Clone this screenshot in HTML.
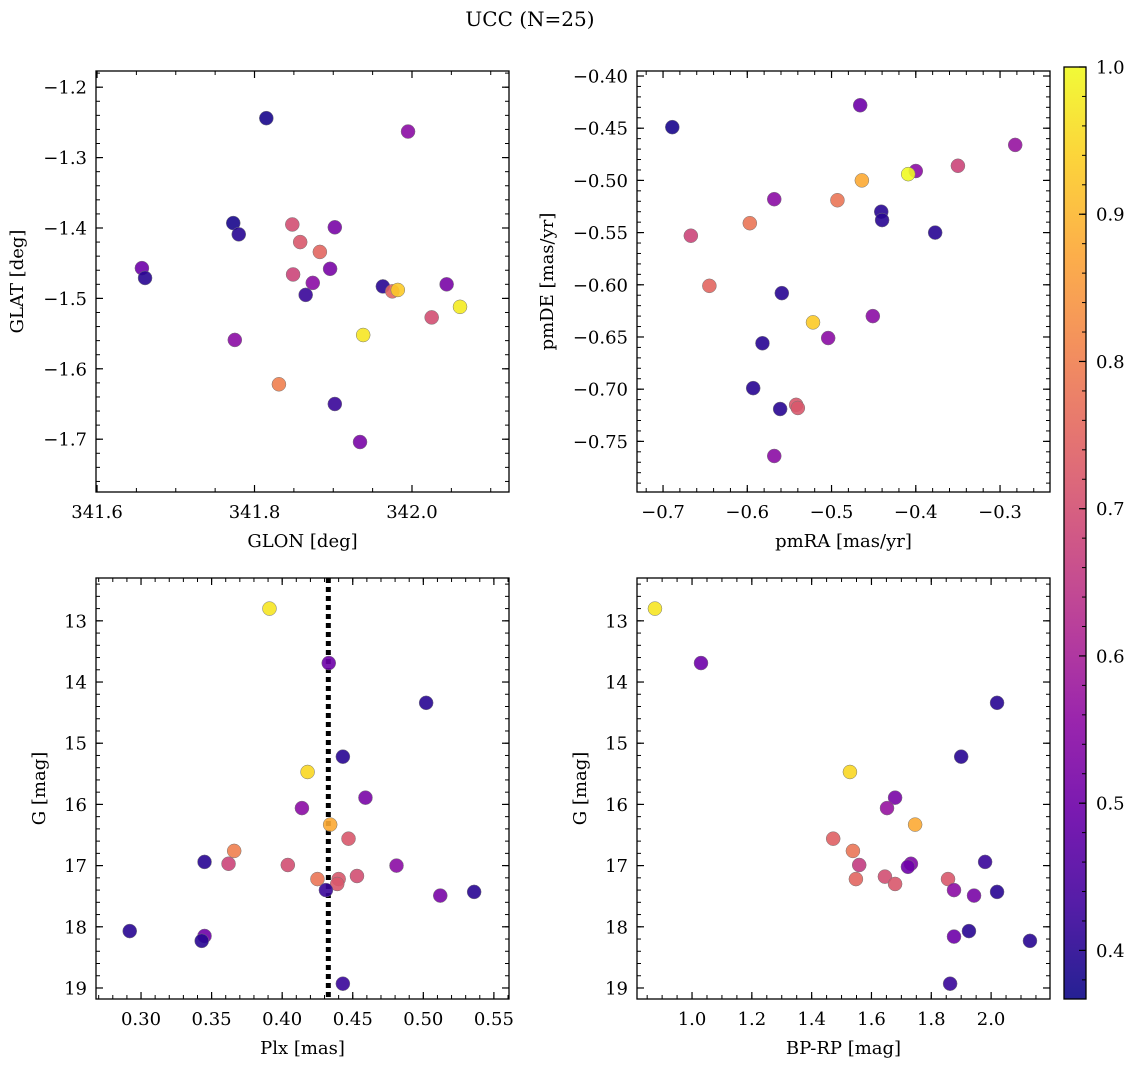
<!DOCTYPE html>
<html><head><meta charset="utf-8"><style>
body{margin:0;background:#fff;}
svg{display:block;font-family:"DejaVu Serif","Liberation Serif",serif;}
</style></head><body>
<svg id="fig" width="1136" height="1067" xmlns="http://www.w3.org/2000/svg">
<text x="530" y="26" font-size="20" text-anchor="middle">UCC (N=25)</text>
</svg>
<script>
// Panel 1: GLON vs GLAT
const glonValues=[341.815,341.995,341.773,341.780,341.848,341.858,341.902,341.883,341.657,341.661,341.849,341.896,341.874,341.865,341.963,341.975,341.982,342.044,342.061,342.025,341.938,341.775,341.831,341.902,341.934];
const glatValues=[-1.244,-1.263,-1.393,-1.409,-1.395,-1.420,-1.399,-1.434,-1.457,-1.471,-1.466,-1.458,-1.478,-1.495,-1.483,-1.490,-1.488,-1.480,-1.512,-1.527,-1.552,-1.559,-1.622,-1.650,-1.704];
const probPanel1=[0.38,0.55,0.38,0.40,0.70,0.72,0.52,0.75,0.50,0.40,0.68,0.52,0.55,0.42,0.40,0.75,0.93,0.52,0.98,0.70,0.97,0.55,0.80,0.42,0.52];
// Panel 2: pmRA vs pmDE
const pmraValues=[-0.689,-0.466,-0.282,-0.350,-0.400,-0.409,-0.464,-0.493,-0.568,-0.441,-0.440,-0.377,-0.597,-0.667,-0.645,-0.559,-0.451,-0.522,-0.504,-0.582,-0.593,-0.561,-0.542,-0.540,-0.568];
const pmdeValues=[-0.449,-0.428,-0.466,-0.486,-0.491,-0.494,-0.500,-0.519,-0.518,-0.530,-0.538,-0.550,-0.541,-0.553,-0.601,-0.608,-0.630,-0.636,-0.651,-0.656,-0.699,-0.719,-0.715,-0.718,-0.764];
const probPanel2=[0.38,0.50,0.57,0.68,0.55,1.00,0.88,0.78,0.55,0.40,0.40,0.40,0.78,0.68,0.75,0.40,0.55,0.93,0.55,0.40,0.40,0.40,0.72,0.72,0.55];
// Panel 3: Plx vs G
const plxValues=[0.391,0.433,0.502,0.443,0.418,0.459,0.414,0.434,0.447,0.366,0.345,0.362,0.404,0.481,0.425,0.440,0.453,0.439,0.431,0.512,0.536,0.292,0.345,0.343,0.443];
const gPanel3=[12.80,13.69,14.34,15.22,15.47,15.89,16.06,16.33,16.56,16.76,16.94,16.97,16.99,17.00,17.22,17.22,17.17,17.30,17.40,17.49,17.43,18.07,18.15,18.23,18.93];
const probPanel3=[0.97,0.50,0.40,0.40,0.95,0.52,0.55,0.88,0.72,0.80,0.40,0.68,0.70,0.55,0.78,0.72,0.70,0.72,0.42,0.52,0.40,0.40,0.50,0.40,0.42];
const plxMedian=[0.4327];
// Panel 4: BP-RP vs G
const bprpValues=[0.876,1.030,2.020,1.900,1.528,1.679,1.652,1.746,1.472,1.538,1.980,1.559,1.732,1.722,1.548,1.645,1.679,1.856,1.876,1.943,2.020,1.926,1.876,2.130,1.863];
const gPanel4=[12.80,13.69,14.34,15.22,15.47,15.89,16.06,16.33,16.56,16.76,16.94,16.99,16.97,17.02,17.22,17.18,17.30,17.22,17.40,17.49,17.43,18.07,18.16,18.23,18.93];
const probPanel4=[0.97,0.50,0.40,0.40,0.95,0.52,0.57,0.88,0.74,0.78,0.42,0.66,0.53,0.50,0.75,0.70,0.72,0.72,0.55,0.52,0.40,0.40,0.50,0.40,0.42];
// Tick labels
const ticksGlon=[341.6,341.8,342.0];
const ticksGlat=[-1.2,-1.3,-1.4,-1.5,-1.6,-1.7];
const ticksPmra=[-0.7,-0.6,-0.5,-0.4,-0.3];
const ticksPmde=[-0.40,-0.45,-0.50,-0.55,-0.60,-0.65,-0.70,-0.75];
const ticksPlx=[0.30,0.35,0.40,0.45,0.50,0.55];
const ticksG=[13,14,15,16,17,18,19];
const ticksBprp=[1.0,1.2,1.4,1.6,1.8,2.0];
const ticksCbar=[0.4,0.5,0.6,0.7,0.8,0.9,1.0];

const NS="http://www.w3.org/2000/svg";
const svg=document.getElementById('fig');
function mk(tag,attrs,parent){const e=document.createElementNS(NS,tag);for(const k in attrs)e.setAttribute(k,attrs[k]);(parent||svg).appendChild(e);return e;}
const CMIN=0.367,CMAX=1.0;
const stops=["#0d0887","#41049d","#6a00a8","#8f0da4","#b12a90","#cc4778","#e16462","#f2844b","#fca636","#fcce25","#f0f921"];
function hex(h){return [1,3,5].map(i=>parseInt(h.substr(i,2),16));}
function plasma(t){t=Math.max(0,Math.min(1,t));const p=t*10,i=Math.min(9,Math.floor(p)),f=p-i;const a=hex(stops[i]),b=hex(stops[i+1]);return 'rgb('+a.map((v,k)=>Math.round(v+(b[k]-v)*f)).join(',')+')';}
function cmap(c){return plasma((c-CMIN)/(CMAX-CMIN));}
function fmt(v,d){return (v<0?'\u2212':'')+Math.abs(v).toFixed(d);}
const TF=18;

function panel(o){
  const g=mk('g',{});
  
  
  const sx=v=>o.x0+(v-o.xmin)/(o.xmax-o.xmin)*(o.x1-o.x0);
  const sy=o.yinv? v=>o.y0+(v-o.ymin)/(o.ymax-o.ymin)*(o.y1-o.y0) : v=>o.y1-(v-o.ymin)/(o.ymax-o.ymin)*(o.y1-o.y0);
  const eps=1e-9;
  for(let v=Math.ceil(o.xmin/o.xminor-eps)*o.xminor;v<=o.xmax+eps;v+=o.xminor){const x=sx(v);
    const t1=mk('line',{x1:x,x2:x,y1:o.y1,y2:o.y1-4,stroke:'#000','stroke-width':1},g);
    const t2=mk('line',{x1:x,x2:x,y1:o.y0,y2:o.y0+4,stroke:'#000','stroke-width':1},g);}
  for(let v=Math.ceil(o.ymin/o.yminor-eps)*o.yminor;v<=o.ymax+eps;v+=o.yminor){const y=sy(v);
    const t1=mk('line',{x1:o.x0,x2:o.x0+4,y1:y,y2:y,stroke:'#000','stroke-width':1},g);
    const t2=mk('line',{x1:o.x1,x2:o.x1-4,y1:y,y2:y,stroke:'#000','stroke-width':1},g);}
  o.xt.forEach(v=>{const x=sx(v);
    const t1=mk('line',{x1:x,x2:x,y1:o.y1,y2:o.y1-7,stroke:'#000','stroke-width':1.2},g);
    const t2=mk('line',{x1:x,x2:x,y1:o.y0,y2:o.y0+7,stroke:'#000','stroke-width':1.2},g);
    const l=mk('text',{x:x,y:o.y1+26,'font-size':TF,'text-anchor':'middle'},g);l.textContent=fmt(v,o.xd);
    });
  o.yt.forEach(v=>{const y=sy(v);
    const t1=mk('line',{x1:o.x0,x2:o.x0+7,y1:y,y2:y,stroke:'#000','stroke-width':1.2},g);
    const t2=mk('line',{x1:o.x1,x2:o.x1-7,y1:y,y2:y,stroke:'#000','stroke-width':1.2},g);
    const l=mk('text',{x:o.x0-9,y:y+6.5,'font-size':TF,'text-anchor':'end'},g);l.textContent=fmt(v,o.yd);
    });
  if(o.vline){o.vline.forEach(v=>{const x=sx(v);
    const ln=mk('line',{x1:x,x2:x,y1:o.y0,y2:o.y1,stroke:'#000','stroke-width':5,'stroke-dasharray':'5,4'},g);
    });}
  o.xs.forEach((v,i)=>{const c=mk('circle',{cx:sx(v),cy:sy(o.ys[i]),r:7,fill:cmap(o.cs[i]),'fill-opacity':0.9,stroke:'#777','stroke-width':0.5},g);
    });
  const b=mk('rect',{x:o.x0,y:o.y0,width:o.x1-o.x0,height:o.y1-o.y0,fill:'none',stroke:'#000','stroke-width':1.3},g);
  
  const xl=mk('text',{x:(o.x0+o.x1)/2,y:o.y1+55,'font-size':18,'text-anchor':'middle'},g);xl.textContent=o.xlab;
  
  const yx=o.ylx,yy=(o.y0+o.y1)/2;
  const yl=mk('text',{x:yx,y:yy,'font-size':18,'text-anchor':'middle',transform:'rotate(-90 '+yx+' '+yy+')'},g);yl.textContent=o.ylab;
  
}

panel({name:'glon-glat-panel',x0:96,x1:509,y0:71,y1:492,xmin:341.5987,xmax:342.1232,ymin:-1.775,ymax:-1.177,
  xt:ticksGlon,yt:ticksGlat,xminor:0.05,yminor:0.02,xd:1,yd:1,xs:glonValues,ys:glatValues,cs:probPanel1,xlab:'GLON [deg]',ylab:'GLAT [deg]',ylx:23});
panel({name:'pmra-pmde-panel',x0:637,x1:1050,y0:71,y1:492,xmin:-0.7309,xmax:-0.2407,ymin:-0.7985,ymax:-0.3952,
  xt:ticksPmra,yt:ticksPmde,xminor:0.02,yminor:0.01,xd:1,yd:2,xs:pmraValues,ys:pmdeValues,cs:probPanel2,xlab:'pmRA [mas/yr]',ylab:'pmDE [mas/yr]',ylx:553});
panel({name:'plx-g-panel',x0:96,x1:509,y0:578,y1:999,xmin:0.2681,xmax:0.5607,ymin:12.30,ymax:19.18,yinv:true,vline:plxMedian,
  xt:ticksPlx,yt:ticksG,xminor:0.01,yminor:0.2,xd:2,yd:0,xs:plxValues,ys:gPanel3,cs:probPanel3,xlab:'Plx [mas]',ylab:'G [mag]',ylx:45});
panel({name:'bprp-g-panel',x0:637,x1:1050,y0:578,y1:999,xmin:0.816,xmax:2.197,ymin:12.30,ymax:19.18,yinv:true,
  xt:ticksBprp,yt:ticksG,xminor:0.05,yminor:0.2,xd:1,yd:0,xs:bprpValues,ys:gPanel4,cs:probPanel4,xlab:'BP-RP [mag]',ylab:'G [mag]',ylx:586});

// colorbar
(function(){
  const x0=1064,x1=1086,y0=67,y1=999;
  const cy=v=>y1-(v-CMIN)/(CMAX-CMIN)*(y1-y0);
  const g=mk('g',{});
  
  
  const defs=mk('defs',{},g);
  const lg=mk('linearGradient',{id:'cbg',x1:0,y1:1,x2:0,y2:0},defs);
  for(let i=0;i<=20;i++){mk('stop',{offset:(i/20),'stop-color':plasma(i/20),'stop-opacity':0.9},lg);}
  const r=mk('rect',{x:x0,y:y0,width:x1-x0,height:y1-y0,fill:'url(#cbg)',stroke:'#000','stroke-width':1.3},g);
  
  for(let v=0.38;v<=1.0001;v+=0.02){const y=cy(v);
    const t=mk('line',{x1:x1,x2:x1-4,y1:y,y2:y,stroke:'#000','stroke-width':1},g);}
  ticksCbar.forEach(v=>{const y=cy(v);
    const t=mk('line',{x1:x1,x2:x1-7,y1:y,y2:y,stroke:'#000','stroke-width':1.2},g);
    const l=mk('text',{x:x1+10,y:y+6.5,'font-size':TF},g);l.textContent=v.toFixed(1);
    });
})();
</script>
</body></html>
